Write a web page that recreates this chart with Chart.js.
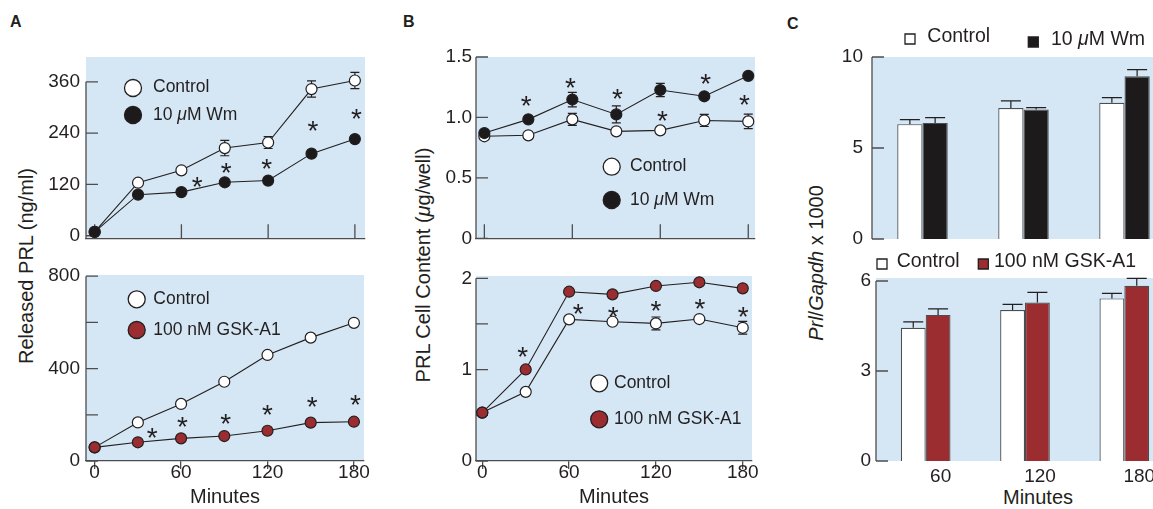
<!DOCTYPE html>
<html>
<head>
<meta charset="utf-8">
<script src="https://cdn.jsdelivr.net/npm/chart.js@4.4.1/dist/chart.umd.min.js"></script>
<style>
  html, body { margin: 0; padding: 0; background: #fff; overflow: hidden; }
  body { width: 1153px; height: 509px; position: relative; font-family: 'Liberation Sans', Arial, sans-serif; color: #231f20; }
  canvas { position: absolute; }
  .lbl { position: absolute; line-height: 1; white-space: nowrap; }
  .panel { font-weight: bold; font-size: 16px; }
  .ytitle { font-size: 20px; transform: translate(-50%, -50%) rotate(-90deg); }
  .xtitle { font-size: 20px; transform: translate(-50%, -50%); }
</style>
</head>
<body>
<div class="lbl panel" style="left:10px;top:14px">A</div>
<div class="lbl panel" style="left:403px;top:14px">B</div>
<div class="lbl panel" style="left:787px;top:16px">C</div>
<div class="lbl ytitle" style="left:26px;top:266px">Released PRL (ng/ml)</div>
<div class="lbl ytitle" style="left:423px;top:265px">PRL Cell Content (<i>μ</i>g/well)</div>
<div class="lbl ytitle" style="left:816px;top:263px"><i>Prl</i>/<i>Gapdh</i> x 1000</div>
<div class="lbl xtitle" style="left:1038px;top:497px">Minutes</div>

<canvas id="releaseWm"></canvas>
<canvas id="releaseGsk"></canvas>
<canvas id="contentWm"></canvas>
<canvas id="contentGsk"></canvas>
<canvas id="mrnaWm"></canvas>
<canvas id="mrnaGsk"></canvas>

<script>
'use strict';

// data

let minutes = [0, 30, 60, 90, 120, 150, 180];
let minuteTicks = [0, 60, 120, 180];
let barGroups = ['60', '120', '180'];

let labelControl = 'Control';
let labelWm = '10 μM Wm';
let labelGsk = '100 nM GSK-A1';

// A, top: released PRL with wortmannin
let releaseWmControl = [9, 124, 153, 205, 218, 343, 363];
let releaseWmControlErr = [0, 0, 0, 18, 14, 19, 19];
let releaseWmTreated = [9, 96, 102, 125, 129, 192, 226];
let releaseWmTreatedErr = [0, 0, 0, 0, 0, 0, 0];
let releaseWmTicks = [0, 120, 240, 360];
let releaseWmTickLabels = ['0', '120', '240', '360'];
let releaseWmStarX = [71, 91, 119, 151, 181];
let releaseWmStarY = [131, 164, 173, 262, 290];

// A, bottom: released PRL with GSK-A1
let releaseGskControl = [59, 167, 247, 343, 459, 534, 598];
let releaseGskTreated = [59, 81, 98, 108, 131, 166, 170];
let releaseGskTicks = [0, 200, 400, 600, 800];
let releaseGskTickLabels = ['0', '', '400', '', '800'];
let releaseGskStarX = [40, 61, 91, 120, 151, 181];
let releaseGskStarY = [130, 177, 192, 228, 264, 274];

// B, top: PRL cell content with wortmannin
let contentWmControl = [0.844, 0.852, 0.984, 0.885, 0.893, 0.975, 0.967];
let contentWmControlErr = [0, 0, 0.05, 0, 0, 0.05, 0.06];
let contentWmTreated = [0.871, 0.984, 1.148, 1.025, 1.227, 1.175, 1.344];
let contentWmTreatedErr = [0, 0, 0.06, 0.07, 0.055, 0, 0];
let contentWmTicks = [0, 0.5, 1.0, 1.5];
let contentWmTickLabels = ['0', '0.5', '1.0', '1.5'];
let contentWmStarX = [28.6, 58.7, 90.7, 121.5, 151, 177.4];
let contentWmStarY = [1.153, 1.305, 1.207, 1.03, 1.336, 1.158];

// B, bottom: PRL cell content with GSK-A1
let contentGskControl = [0.53, 0.757, 1.55, 1.524, 1.506, 1.554, 1.458];
let contentGskControlErr = [0, 0, 0, 0, 0.07, 0, 0.07];
let contentGskTreated = [0.53, 1.002, 1.853, 1.824, 1.916, 1.956, 1.89];
let contentGskTicks = [0, 0.5, 1, 1.5, 2];
let contentGskTickLabels = ['0', '', '1', '', '2'];
let contentGskStarX = [27.9, 66.3, 90.5, 120, 150.4, 180.4];
let contentGskStarY = [1.22, 1.69, 1.65, 1.715, 1.74, 1.65];

// C, top: Prl/Gapdh with wortmannin
let mrnaWmControl = [6.31, 7.2, 7.48];
let mrnaWmControlErr = [0.25, 0.39, 0.29];
let mrnaWmTreated = [6.38, 7.11, 8.94];
let mrnaWmTreatedErr = [0.29, 0.11, 0.37];
let mrnaWmTicks = [0, 5, 10];
let mrnaWmTickLabels = ['0', '5', '10'];

// C, bottom: Prl/Gapdh with GSK-A1
let mrnaGskControl = [4.44, 5.03, 5.42];
let mrnaGskControlErr = [0.2, 0.19, 0.17];
let mrnaGskTreated = [4.87, 5.28, 5.84];
let mrnaGskTreatedErr = [0.2, 0.34, 0.25];
let mrnaGskTicks = [0, 3, 6];
let mrnaGskTickLabels = ['0', '3', '6'];

// styles

let fontFamily = "'Liberation Sans', Arial, Helvetica, sans-serif";
let ink = '#231f20';
let axisInk = '#4d4d4f';
let panelBlue = '#d5e7f5';
let gskRed = '#9b2d30';
let wmBlack = '#1d1a1b';

Chart.defaults.font.family = fontFamily;
Chart.defaults.color = ink;

// drawing helpers

function richText(ctx, text, x, y, size) {
  let parts = text.split(/(μ)/);
  for (let part of parts) {
    if (!part) continue;
    ctx.font = (part === 'μ' ? 'italic ' : '') + size + 'px ' + fontFamily;
    ctx.fillText(part, x, y);
    x += ctx.measureText(part).width;
  }
}

function drawAxes(chart, opts) {
  let ctx = chart.ctx;
  let a = chart.chartArea;
  let ys = chart.scales.y;
  let xs = chart.scales.x;
  ctx.save();
  ctx.strokeStyle = axisInk;
  ctx.lineWidth = 1.3;
  ctx.beginPath();
  ctx.moveTo(a.left, ys.getPixelForValue(Math.max(...opts.yTicks)));
  ctx.lineTo(a.left, a.bottom);
  for (let v of opts.yTicks) {
    let y = ys.getPixelForValue(v);
    ctx.moveTo(a.left, y);
    ctx.lineTo(a.left + 12, y);
  }
  if (opts.xInner) {
    for (let v of opts.xInner) {
      let x = xs.getPixelForValue(v);
      ctx.moveTo(x, a.bottom);
      ctx.lineTo(x, a.bottom - 14);
    }
  }
  ctx.stroke();
  ctx.restore();
}

function drawErrors(chart, opts, upOnly) {
  let ctx = chart.ctx;
  let ys = chart.scales.y;
  ctx.save();
  ctx.strokeStyle = ink;
  ctx.lineWidth = 1.2;
  opts.errors.forEach((errs, di) => {
    let ds = chart.data.datasets[di];
    let meta = chart.getDatasetMeta(di);
    errs.forEach((e, j) => {
      if (!e) return;
      let v = upOnly ? ds.data[j] : ds.data[j].y;
      let x = meta.data[j].x;
      let yTop = ys.getPixelForValue(v + e);
      let yBot = upOnly ? meta.data[j].y : ys.getPixelForValue(v - e);
      let half = opts.capHalf;
      ctx.beginPath();
      ctx.moveTo(x, yBot);
      ctx.lineTo(x, yTop);
      ctx.moveTo(x - half, yTop);
      ctx.lineTo(x + half, yTop);
      if (!upOnly) {
        ctx.moveTo(x - half, yBot);
        ctx.lineTo(x + half, yBot);
      }
      ctx.stroke();
    });
  });
  ctx.restore();
}

function drawStars(chart, opts) {
  if (!opts.starX) return;
  let ctx = chart.ctx;
  ctx.save();
  ctx.fillStyle = ink;
  ctx.font = '28px ' + fontFamily;
  ctx.textAlign = 'center';
  ctx.textBaseline = 'alphabetic';
  opts.starX.forEach((m, i) => {
    let x = chart.scales.x.getPixelForValue(m);
    let y = chart.scales.y.getPixelForValue(opts.starY[i]);
    ctx.fillText('*', x, y + 16);
  });
  ctx.restore();
}

function drawLegend(chart, opts) {
  let ctx = chart.ctx;
  let a = chart.chartArea;
  ctx.save();
  opts.legend.forEach((item, i) => {
    let ds = chart.data.datasets[i];
    let mx = a.left + item.mx;
    let my = a.top + item.my;
    ctx.fillStyle = ds.pointBackgroundColor || ds.backgroundColor;
    ctx.strokeStyle = ink;
    ctx.lineWidth = 1.3;
    ctx.beginPath();
    if (opts.marker === 'circle') {
      ctx.arc(mx, my, 8.5, 0, Math.PI * 2);
    } else {
      ctx.rect(mx - 5, my - 5, 10, 10);
    }
    ctx.fill();
    ctx.stroke();
    ctx.fillStyle = ink;
    ctx.textAlign = 'left';
    ctx.textBaseline = 'middle';
    richText(ctx, ds.label, a.left + item.tx, a.top + item.ty, opts.legendSize);
  });
  ctx.restore();
}

let panelDecor = {
  id: 'panelDecor',
  beforeDraw(chart) {
    let a = chart.chartArea;
    let ctx = chart.ctx;
    ctx.save();
    ctx.fillStyle = panelBlue;
    ctx.fillRect(a.left, a.top, a.right - a.left, a.bottom - a.top);
    ctx.restore();
  },
  beforeDatasetsDraw(chart, args, opts) {
    drawAxes(chart, opts);
    if (chart.config.type === 'line') drawErrors(chart, opts, false);
  },
  afterDatasetsDraw(chart, args, opts) {
    if (chart.config.type === 'bar') drawErrors(chart, opts, true);
    drawStars(chart, opts);
    drawLegend(chart, opts);
  }
};

// chart builders

function placeChart(id, area, pad, config) {
  let canvas = document.getElementById(id);
  canvas.width = area.r - area.l + pad.l + pad.r;
  canvas.height = area.b - area.t + pad.t + pad.b;
  canvas.style.left = (area.l - pad.l) + 'px';
  canvas.style.top = (area.t - pad.t) + 'px';
  config.options.responsive = false;
  config.options.animation = false;
  config.options.devicePixelRatio = 1;
  config.options.layout = { padding: { top: pad.t, right: pad.r, left: 0, bottom: 0 } };
  config.options.scales.x.afterFit = (s) => { s.height = pad.b; s.paddingLeft = 0; s.paddingRight = 0; };
  config.options.scales.y.afterFit = (s) => { s.width = pad.l; s.paddingTop = 0; s.paddingBottom = 0; };
  config.plugins = [panelDecor];
  return new Chart(canvas, config);
}

function toPoints(values) {
  return minutes.map((m, i) => ({ x: m, y: values[i] }));
}

function yScale(range, ticks, labels, pad) {
  return {
    type: 'linear',
    min: range[0],
    max: range[1],
    afterBuildTicks: (s) => { s.ticks = ticks.map((v) => ({ value: v })); },
    grid: { display: false, drawTicks: false },
    border: { display: false },
    ticks: {
      padding: pad,
      font: { size: 19 },
      color: ink,
      callback: (v, i) => labels[i]
    }
  };
}

function lineChart(id, area, pad, s) {
  let dot = {
    borderColor: ink,
    borderWidth: 1.1,
    pointRadius: 5.5,
    pointBorderWidth: 1.2,
    pointBorderColor: ink,
    tension: 0,
    clip: false
  };
  let config = {
    type: 'line',
    data: {
      datasets: [
        Object.assign({ label: labelControl, data: toPoints(s.control), pointBackgroundColor: '#ffffff', order: 1 }, dot),
        Object.assign({ label: s.treatLabel, data: toPoints(s.treated), pointBackgroundColor: s.treatColor, order: 0 }, dot)
      ]
    },
    options: {
      plugins: {
        legend: { display: false },
        tooltip: { enabled: false },
        panelDecor: {
          yTicks: s.yTicks,
          xInner: s.showX ? null : minuteTicks,
          errors: [s.controlErr || [], s.treatedErr || []],
          capHalf: 4.5,
          starX: s.starX,
          starY: s.starY,
          marker: 'circle',
          legendSize: 17.5,
          legend: s.legend
        }
      },
      scales: {
        x: {
          type: 'linear',
          min: s.xRange[0],
          max: s.xRange[1],
          afterBuildTicks: (sc) => { sc.ticks = minuteTicks.map((v) => ({ value: v })); },
          grid: { display: s.showX, drawOnChartArea: false, drawTicks: true, tickLength: 8, color: axisInk, lineWidth: 1.3 },
          border: { display: true, color: axisInk, width: 1.3 },
          ticks: { display: s.showX, padding: -8, font: { size: 19 }, color: ink, autoSkip: false, maxRotation: 0 },
          title: { display: s.showX, text: 'Minutes', font: { size: 20 }, color: ink, padding: { top: 0, bottom: 0 } }
        },
        y: yScale(s.yRange, s.yTicks, s.yLabels, s.yPad)
      }
    }
  };
  return placeChart(id, area, pad, config);
}

function barChart(id, area, pad, s) {
  let config = {
    type: 'bar',
    data: {
      labels: barGroups,
      datasets: [
        { label: labelControl, data: s.control, backgroundColor: '#ffffff', borderColor: axisInk, borderWidth: 1.2 },
        { label: s.treatLabel, data: s.treated, backgroundColor: s.treatColor, borderColor: axisInk, borderWidth: 1.2 }
      ]
    },
    options: {
      datasets: { bar: { categoryPercentage: 0.5, barPercentage: 1.0 } },
      plugins: {
        legend: { display: false },
        tooltip: { enabled: false },
        panelDecor: {
          yTicks: s.yTicks,
          xInner: null,
          errors: [s.controlErr, s.treatedErr],
          capHalf: 10,
          marker: 'square',
          legendSize: 19.5,
          legend: s.legend
        }
      },
      scales: {
        x: {
          type: 'category',
          offset: true,
          grid: { display: false, drawTicks: false },
          border: { display: false },
          ticks: { display: s.showX, labelOffset: 15, padding: 4, font: { size: 19 }, color: ink, autoSkip: false, maxRotation: 0 }
        },
        y: yScale(s.yRange, s.yTicks, s.yLabels, s.yPad)
      }
    }
  };
  return placeChart(id, area, pad, config);
}

// executable code

lineChart('releaseWm', { l: 86, t: 57, r: 365, b: 239 }, { l: 86, t: 40, r: 10, b: 6 }, {
  control: releaseWmControl, controlErr: releaseWmControlErr,
  treated: releaseWmTreated, treatedErr: releaseWmTreatedErr,
  treatLabel: labelWm, treatColor: wmBlack,
  xRange: [-6, 187], yRange: [-6, 418],
  yTicks: releaseWmTicks, yLabels: releaseWmTickLabels, yPad: 6,
  showX: false,
  starX: releaseWmStarX, starY: releaseWmStarY,
  legend: [{ mx: 47, my: 31, tx: 67, ty: 30 }, { mx: 47, my: 58, tx: 67, ty: 58 }]
});

lineChart('releaseGsk', { l: 86, t: 275, r: 364, b: 461 }, { l: 86, t: 12, r: 10, b: 48 }, {
  control: releaseGskControl,
  treated: releaseGskTreated,
  treatLabel: labelGsk, treatColor: gskRed,
  xRange: [-6, 187], yRange: [0, 805],
  yTicks: releaseGskTicks, yLabels: releaseGskTickLabels, yPad: 6,
  showX: true,
  starX: releaseGskStarX, starY: releaseGskStarY,
  legend: [{ mx: 50.7, my: 24.3, tx: 67.3, ty: 24 }, { mx: 50.7, my: 55, tx: 67.3, ty: 55 }]
});

lineChart('contentWm', { l: 476, t: 57, r: 755, b: 239 }, { l: 66, t: 40, r: 10, b: 6 }, {
  control: contentWmControl, controlErr: contentWmControlErr,
  treated: contentWmTreated, treatedErr: contentWmTreatedErr,
  treatLabel: labelWm, treatColor: wmBlack,
  xRange: [-5.7, 184.6], yRange: [0, 1.5],
  yTicks: contentWmTicks, yLabels: contentWmTickLabels, yPad: 4,
  showX: false,
  starX: contentWmStarX, starY: contentWmStarY,
  legend: [{ mx: 135.7, my: 109.7, tx: 154, ty: 109 }, { mx: 135.7, my: 143, tx: 154, ty: 143 }]
});

lineChart('contentGsk', { l: 476, t: 276, r: 752, b: 461 }, { l: 66, t: 12, r: 10, b: 48 }, {
  control: contentGskControl, controlErr: contentGskControlErr,
  treated: contentGskTreated,
  treatLabel: labelGsk, treatColor: gskRed,
  xRange: [-4.35, 186.4], yRange: [0, 2.025],
  yTicks: contentGskTicks, yLabels: contentGskTickLabels, yPad: 4,
  showX: true,
  starX: contentGskStarX, starY: contentGskStarY,
  legend: [{ mx: 123.2, my: 107.3, tx: 138, ty: 107 }, { mx: 123.2, my: 143.3, tx: 138, ty: 143 }]
});

barChart('mrnaWm', { l: 872, t: 57, r: 1175, b: 239 }, { l: 50, t: 45, r: 0, b: 6 }, {
  control: mrnaWmControl, controlErr: mrnaWmControlErr,
  treated: mrnaWmTreated, treatedErr: mrnaWmTreatedErr,
  treatLabel: labelWm, treatColor: wmBlack,
  yRange: [0, 10], yTicks: mrnaWmTicks, yLabels: mrnaWmTickLabels, yPad: 9,
  showX: false,
  legend: [{ mx: 38, my: -18, tx: 55.3, ty: -20.3 }, { mx: 161.3, my: -15, tx: 179, ty: -17 }]
});

barChart('mrnaGsk', { l: 876, t: 278, r: 1174, b: 461 }, { l: 50, t: 30, r: 0, b: 48 }, {
  control: mrnaGskControl, controlErr: mrnaGskControlErr,
  treated: mrnaGskTreated, treatedErr: mrnaGskTreatedErr,
  treatLabel: labelGsk, treatColor: gskRed,
  yRange: [0, 6.1], yTicks: mrnaGskTicks, yLabels: mrnaGskTickLabels, yPad: 5,
  showX: true,
  legend: [{ mx: 6, my: -14, tx: 20.7, ty: -16.3 }, { mx: 107.3, my: -14, tx: 118, ty: -16.3 }]
});
</script>
</body>
</html>
